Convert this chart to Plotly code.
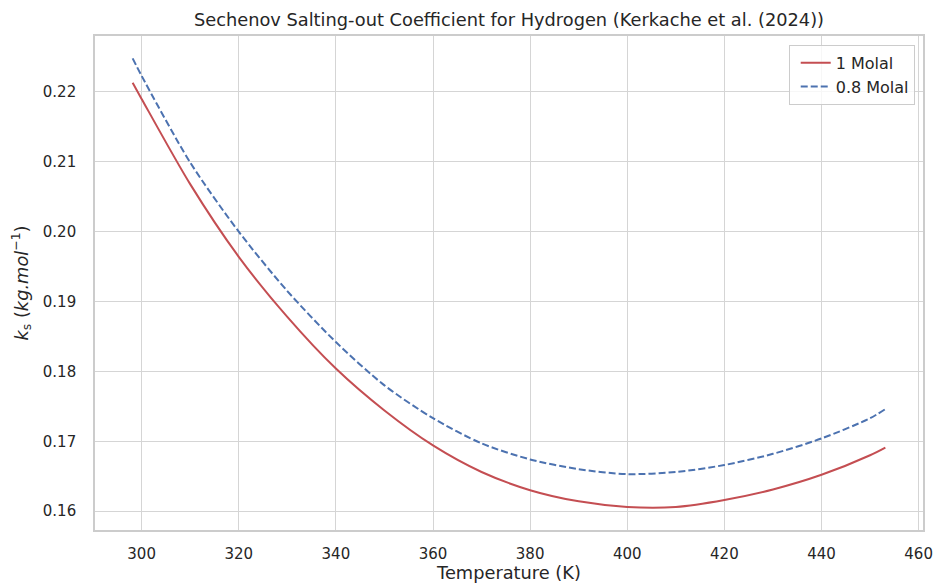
import plotly.graph_objects as go

# Temperature (K)
temperature = [298.15, 300, 310, 320, 330, 340, 350, 360, 370, 380, 390, 400, 410, 420, 430, 440, 450, 453.15]
# Sechenov coefficient k_s, 1 molal
ks_1molal = [0.2213, 0.2190, 0.2068, 0.1964, 0.1878, 0.1804, 0.1744, 0.1694, 0.1656, 0.1630, 0.1614, 0.1606, 0.1606, 0.1616, 0.1631, 0.1652, 0.1680, 0.1691]
# Sechenov coefficient k_s, 0.8 molal
ks_08molal = [0.2248, 0.2223, 0.2099, 0.2000, 0.1915, 0.1842, 0.1780, 0.1733, 0.1697, 0.1674, 0.1660, 0.1653, 0.1656, 0.1666, 0.1682, 0.1704, 0.1733, 0.1746]

series_names = ["1 Molal", "0.8 Molal"]
x_ticks = [300, 320, 340, 360, 380, 400, 420, 440, 460]
y_ticks = [0.16, 0.17, 0.18, 0.19, 0.20, 0.21, 0.22]

TEXT = "#262626"
GRID = "#d5d5d5"
FONT = "DejaVu Sans"

fig = go.Figure()
fig.add_trace(go.Scatter(x=temperature, y=ks_1molal, mode="lines", name=series_names[0],
                         line=dict(color="#C44E52", width=2, shape="spline", smoothing=0.8)))
fig.add_trace(go.Scatter(x=temperature, y=ks_08molal, mode="lines", name=series_names[1],
                         line=dict(color="#4C72B0", width=2, dash="7px,3px", shape="spline", smoothing=0.8)))

fig.update_layout(
    width=935, height=583,
    margin=dict(l=95, r=12, t=36, b=53),
    paper_bgcolor="white", plot_bgcolor="white",
    font=dict(family=FONT, color=TEXT, size=15),
    title=dict(text="Sechenov Salting-out Coefficient for Hydrogen (Kerkache et al. (2024))",
               x=(95 + 923) / 2 / 935, xanchor="center", y=1 - 20 / 583, yanchor="middle",
               font=dict(size=17.8, color=TEXT, family=FONT)),
    legend=dict(x=0.990, y=0.982, xanchor="right", yanchor="top",
                bgcolor="rgba(255,255,255,0.8)", bordercolor="#cccccc", borderwidth=1,
                font=dict(size=16, color=TEXT, family=FONT), itemwidth=30,
                tracegroupgap=2, indentation=6),
    showlegend=True,
)
fig.update_xaxes(range=[290.4, 460.9], tickvals=x_ticks, ticktext=[str(v) for v in x_ticks],
                 showgrid=True, gridcolor=GRID, gridwidth=1, zeroline=False,
                 showline=True, linecolor="#cccccc", linewidth=1.6, mirror=True,
                 ticks="", ticklabelstandoff=9, tickfont=dict(size=15, color=TEXT),
                 automargin=False,
                 title=dict(text="Temperature (K)", font=dict(size=17.8, color=TEXT), standoff=12))
fig.update_yaxes(range=[0.1573, 0.2280], tickvals=y_ticks, ticktext=[f"{v:.2f}" for v in y_ticks],
                 showgrid=True, gridcolor=GRID, gridwidth=1, zeroline=False,
                 showline=True, linecolor="#cccccc", linewidth=1.6, mirror=True,
                 ticks="", ticklabelstandoff=14, tickfont=dict(size=15, color=TEXT),
                 automargin=False,
                 title=dict(text="<i>k</i><sub>s</sub> (<i>kg.mol</i><sup>−1</sup>)",
                            font=dict(size=17.8, color=TEXT), standoff=10))

fig.write_html("out.html")
